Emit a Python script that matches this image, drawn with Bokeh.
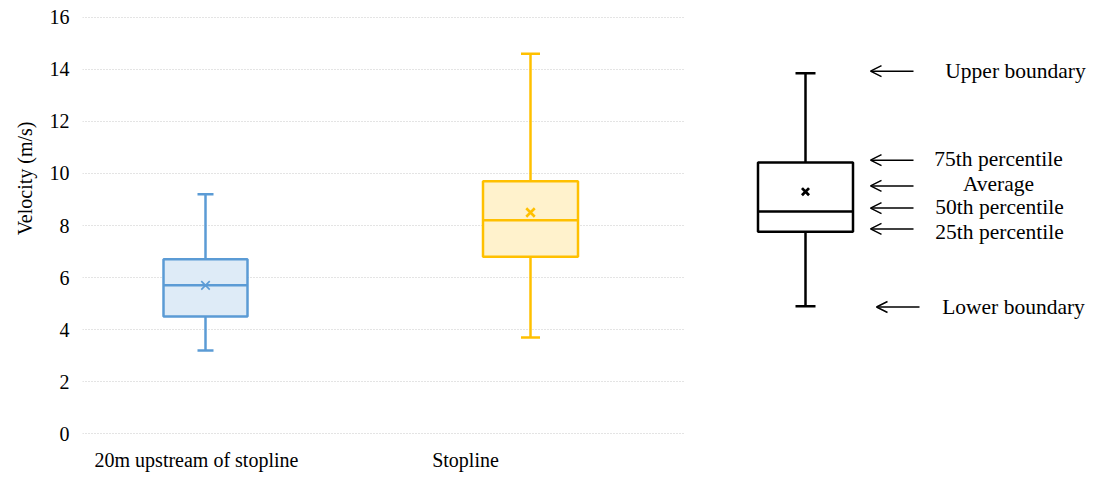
from bokeh.plotting import figure
from bokeh.models import Range1d, FixedTicker, ColumnDataSource, Arrow, OpenHead, Title
from bokeh.layouts import row
from bokeh.core.properties import value
from bokeh.embed import file_html
from bokeh.resources import INLINE

# ---- data ----
categories = ["20m upstream of stopline", "Stopline"]
lower = [3.2, 3.7]
q1 = [4.5, 6.8]
median = [5.7, 8.2]
mean = [5.7, 8.5]
q3 = [6.7, 9.7]
upper = [9.2, 14.6]
y_ticks = [0, 2, 4, 6, 8, 10, 12, 14, 16]

# explanatory key box (illustrative values)
key_stats = {"lower": 4.9, "q1": 7.76, "median": 8.54, "mean": 9.3, "q3": 10.42, "upper": 13.85}
key_labels = ["Upper boundary", "75th percentile", "Average", "50th percentile", "25th percentile", "Lower boundary"]

# ---- styling / layout ----
FONT = "Liberation Serif"
line_colors = ["#5B9BD5", "#FFC000"]
fill_colors = ["#DEEBF7", "#FFF2CC"]
mean_lw = [1.6, 2.6]
box_pos = [123, 448]        # box centres (px units of the x range)
label_pos = [114, 383]      # category label positions
box_w = [84, 95]
cap_w = [16, 19]

H = 475
TOP = 16
BOTTOM = 41
yr = Range1d(-0.03, 16.03)
p = figure(width=698, height=H, output_backend="svg", toolbar_location=None,
           x_range=Range1d(0, 603), y_range=yr,
           min_border_left=82, min_border_right=13, min_border_top=TOP, min_border_bottom=BOTTOM)
p.outline_line_color = None
p.background_fill_color = "white"
p.border_fill_color = "white"

# y axis
p.yaxis.ticker = FixedTicker(ticks=y_ticks)
p.yaxis.axis_line_color = None
p.yaxis.major_tick_line_color = None
p.yaxis.minor_tick_line_color = None
p.yaxis.major_label_text_font = FONT
p.yaxis.major_label_text_font_size = "20px"
p.yaxis.major_label_text_color = "black"
p.yaxis.major_label_standoff = 7

ylab = Title(text="Velocity (m/s)", align="right", offset=105, standoff=17, vertical_align="top",
             text_font=FONT, text_font_size="20px", text_font_style="normal", text_color="black")
p.add_layout(ylab, "left")

# x axis
p.xaxis.ticker = FixedTicker(ticks=label_pos)
p.xaxis.major_label_overrides = {label_pos[i]: categories[i] for i in range(len(categories))}
p.xaxis.axis_line_color = None
p.xaxis.major_tick_line_color = None
p.xaxis.minor_tick_line_color = None
p.xaxis.major_label_text_font = FONT
p.xaxis.major_label_text_font_size = "20px"
p.xaxis.major_label_text_color = "black"
p.xaxis.major_label_standoff = 8

p.xgrid.grid_line_color = None
p.ygrid.grid_line_color = "#c8c8c8"
p.ygrid.grid_line_dash = "1 2"
p.ygrid.grid_line_width = 1

src = ColumnDataSource(dict(
    x=box_pos, lower=lower, q1=q1, median=median, mean=mean, q3=q3, upper=upper,
    w=box_w, lc=line_colors, fc=fill_colors, mlw=mean_lw,
    x0=[box_pos[i] - box_w[i] / 2 for i in range(2)],
    x1=[box_pos[i] + box_w[i] / 2 for i in range(2)],
    c0=[box_pos[i] - cap_w[i] / 2 for i in range(2)],
    c1=[box_pos[i] + cap_w[i] / 2 for i in range(2)],
))

LW = 2.5
p.segment(x0="x", y0="q3", x1="x", y1="upper", line_color="lc", line_width=LW, source=src)
p.segment(x0="x", y0="q1", x1="x", y1="lower", line_color="lc", line_width=LW, source=src)
p.segment(x0="c0", y0="upper", x1="c1", y1="upper", line_color="lc", line_width=LW, source=src)
p.segment(x0="c0", y0="lower", x1="c1", y1="lower", line_color="lc", line_width=LW, source=src)
p.vbar(x="x", width="w", bottom="q1", top="q3", fill_color="fc", line_color="lc",
       line_width=LW, source=src)
p.segment(x0="x0", y0="median", x1="x1", y1="median", line_color="lc", line_width=LW, source=src)
p.scatter(x="x", y="mean", marker="x", size=12, line_color="lc", line_width="mlw", source=src)

# ---- key diagram ----
k = figure(width=399, height=H, output_backend="svg", toolbar_location=None,
           x_range=Range1d(0, 399), y_range=yr,
           x_axis_location=None, y_axis_location=None,
           min_border_left=0, min_border_right=0, min_border_top=TOP, min_border_bottom=BOTTOM)
k.outline_line_color = None
k.grid.visible = False

kx = 107
kw = 95
kc = 20
k.segment(x0=[kx, kx], y0=[key_stats["q3"], key_stats["q1"]],
          x1=[kx, kx], y1=[key_stats["upper"], key_stats["lower"]],
          line_color="black", line_width=LW)
k.segment(x0=[kx - kc / 2] * 2, y0=[key_stats["upper"], key_stats["lower"]],
          x1=[kx + kc / 2] * 2, y1=[key_stats["upper"], key_stats["lower"]],
          line_color="black", line_width=LW)
k.vbar(x=[kx], width=kw, bottom=[key_stats["q1"]], top=[key_stats["q3"]],
       fill_color="white", line_color="black", line_width=LW)
k.segment(x0=[kx - kw / 2], y0=[key_stats["median"]], x1=[kx + kw / 2], y1=[key_stats["median"]],
          line_color="black", line_width=LW)
k.scatter(x=[kx], y=[key_stats["mean"]], marker="x", size=10, line_color="black", line_width=2.8)

arrow_y = [13.93, 10.51, 9.52, 8.67, 7.87, 4.87]
arrow_x_start = [215, 215, 215, 215, 215, 221]
arrow_x_end = [172, 172, 172, 172, 172, 178]
for xs, xe, yy in zip(arrow_x_start, arrow_x_end, arrow_y):
    k.add_layout(Arrow(end=OpenHead(size=11, line_width=1.5, line_color="black"),
                       x_start=xs, y_start=yy, x_end=xe, y_end=yy,
                       line_width=1.5, line_color="black"))

text_x = [317, 300, 300, 301, 301, 315]
text_y = [13.93, 10.55, 9.59, 8.71, 7.75, 4.87]
k.text(x=text_x, y=text_y, text=key_labels, text_font=value(FONT), text_font_size="21.5px",
       text_align="center", text_baseline="middle", text_color="black")

layout = row(p, k)
open("out.html", "w").write(file_html(layout, INLINE))
